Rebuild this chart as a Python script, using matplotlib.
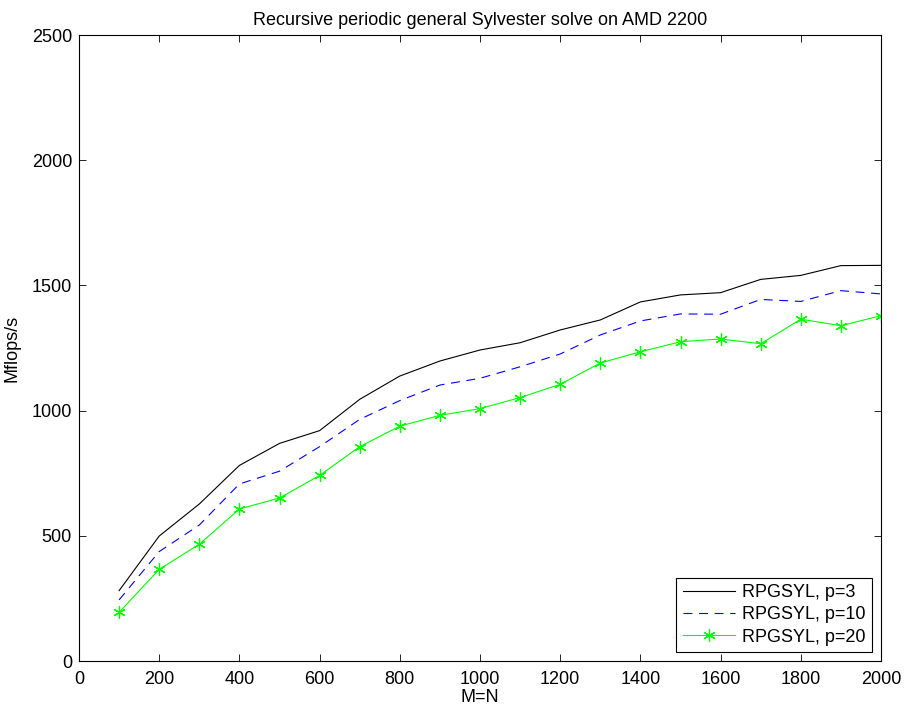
import matplotlib
matplotlib.use('Agg')
import matplotlib.pyplot as plt

plt.rcParams['font.family'] = ['Liberation Sans', 'DejaVu Sans']

# Datos
n = [100, 200, 300, 400, 500, 600, 700, 800, 900, 1000,
     1100, 1200, 1300, 1400, 1500, 1600, 1700, 1800, 1900, 2000]
p3 = [281, 499, 627, 781, 869, 920, 1045, 1138, 1198, 1242,
      1271, 1322, 1362, 1434, 1462, 1471, 1524, 1540, 1579, 1580]
p10 = [244, 437, 543, 707, 758, 856, 965, 1040, 1102, 1129,
       1175, 1226, 1302, 1358, 1386, 1385, 1444, 1436, 1479, 1466]
p20 = [194, 366, 466, 607, 651, 741, 856, 938, 981, 1008,
       1052, 1105, 1190, 1235, 1275, 1286, 1267, 1365, 1339, 1379]

fig = plt.figure(figsize=(9.08, 7.06), dpi=100)
ax = fig.add_axes([79/908, 45/706, 802/908, 626/706])

ax.plot(n, p3, color='k', linestyle='-', linewidth=0.8, label='RPGSYL, p=3')
ax.plot(n, p10, color='b', linestyle=(0, (8, 6)), linewidth=0.8, label='RPGSYL, p=10')
ax.plot(n, p20, color=(0, 1, 0), linestyle='-', linewidth=0.8,
        marker=(6, 2, 0), markersize=9, markeredgewidth=0.9, label='RPGSYL, p=20')

ax.set_xlim(0, 2000)
ax.set_ylim(0, 2500)
ax.set_xticks(range(0, 2001, 200))
ax.set_yticks(range(0, 2501, 500))
ax.tick_params(direction='in', top=True, right=True, labelsize=13, length=5, width=0.6)
ax.tick_params(axis='x', pad=7)
ax.tick_params(axis='y', pad=5)
for s in ax.spines.values():
    s.set_linewidth(0.8)

ax.set_xlabel('M=N', fontsize=13, labelpad=1)
ax.set_ylabel('Mflops/s', fontsize=13, labelpad=8)
ax.set_title('Recursive periodic general Sylvester solve on AMD 2200', fontsize=13, pad=7)

leg = ax.legend(loc='lower right', fontsize=13, fancybox=False, edgecolor='k',
                framealpha=1, borderaxespad=0.5, handlelength=2.9,
                borderpad=0.35, labelspacing=0.3, handletextpad=0.4)
leg.get_frame().set_linewidth(0.8)

plt.savefig('out.png', dpi=100)
